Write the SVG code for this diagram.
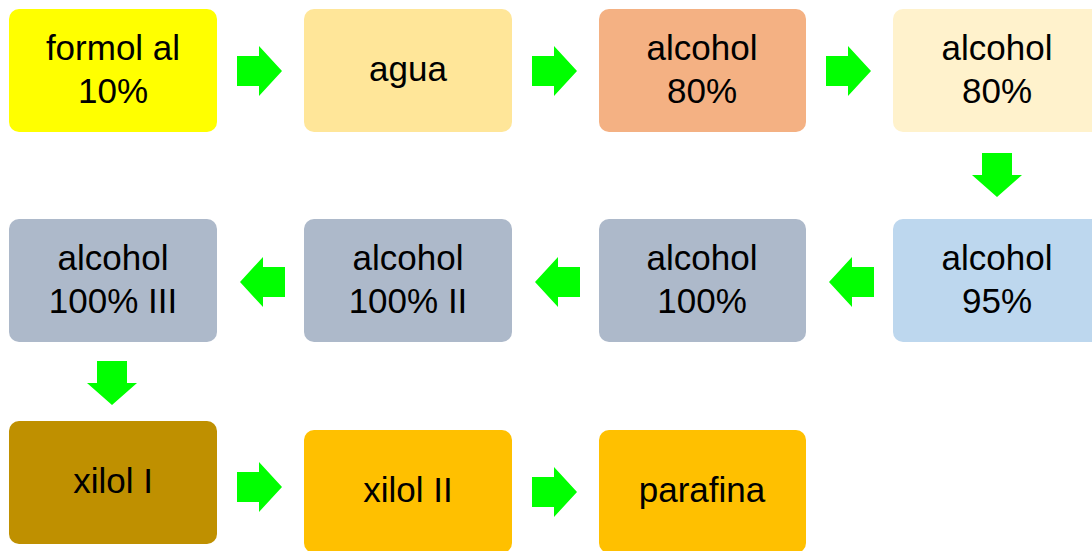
<svg xmlns="http://www.w3.org/2000/svg" width="1092" height="551" viewBox="0 0 1092 551">
<style>
.box{stroke:none}
text{font-family:"Liberation Sans",Arial,sans-serif;font-size:35px;fill:#000;text-anchor:middle}
.arr{fill:#00FF00}
</style>
<defs>
<polygon id="ar" class="arr" points="0,-15 22,-15 22,-25 45,0 22,25 22,15 0,15"/>
<polygon id="ad" class="arr" points="-15,0 15,0 15,22 25,22 0,44 -25,22 -15,22"/>
</defs>
<rect width="1092" height="551" fill="#fff"/>
<g id="n1"><rect class="box" x="9" y="9" width="208" height="123" rx="10" fill="#FFFF00"/><text x="113" y="60">formol al</text><text x="113" y="103">10%</text></g>
<g id="n2"><rect class="box" x="304" y="9" width="208" height="123" rx="10" fill="#FFE699"/><text x="408" y="81">agua</text></g>
<g id="n3"><rect class="box" x="599" y="9" width="207" height="123" rx="10" fill="#F4B183"/><text x="702" y="60">alcohol</text><text x="702" y="103">80%</text></g>
<g id="n4"><rect class="box" x="893" y="9" width="208" height="123" rx="10" fill="#FFF2CC"/><text x="997" y="60">alcohol</text><text x="997" y="103">80%</text></g>
<g id="n5"><rect class="box" x="893" y="219" width="208" height="123" rx="10" fill="#BDD7EE"/><text x="997" y="270">alcohol</text><text x="997" y="313">95%</text></g>
<g id="n6"><rect class="box" x="599" y="219" width="207" height="123" rx="10" fill="#ADB9CA"/><text x="702" y="270">alcohol</text><text x="702" y="313">100%</text></g>
<g id="n7"><rect class="box" x="304" y="219" width="208" height="123" rx="10" fill="#ADB9CA"/><text x="408" y="270">alcohol</text><text x="408" y="313">100% II</text></g>
<g id="n8"><rect class="box" x="9" y="219" width="208" height="123" rx="10" fill="#ADB9CA"/><text x="113" y="270">alcohol</text><text x="113" y="313">100% III</text></g>
<g id="n9"><rect class="box" x="9" y="421" width="208" height="123" rx="10" fill="#BF9000"/><text x="113" y="493">xilol I</text></g>
<g id="n10"><rect class="box" x="304" y="430" width="208" height="123" rx="10" fill="#FFC000"/><text x="408" y="502">xilol II</text></g>
<g id="n11"><rect class="box" x="599" y="430" width="207" height="123" rx="10" fill="#FFC000"/><text x="702" y="502">parafina</text></g>
<g id="connectors">
<use href="#ar" x="237" y="71"/>
<use href="#ar" x="532" y="71"/>
<use href="#ar" x="826" y="71"/>
<use href="#ad" x="997" y="153"/>
<use href="#ar" transform="translate(874,282) scale(-1,1)"/>
<use href="#ar" transform="translate(580,282) scale(-1,1)"/>
<use href="#ar" transform="translate(285,282) scale(-1,1)"/>
<use href="#ad" x="112" y="361"/>
<use href="#ar" x="237" y="487"/>
<use href="#ar" x="532" y="492"/>
</g>
</svg>
